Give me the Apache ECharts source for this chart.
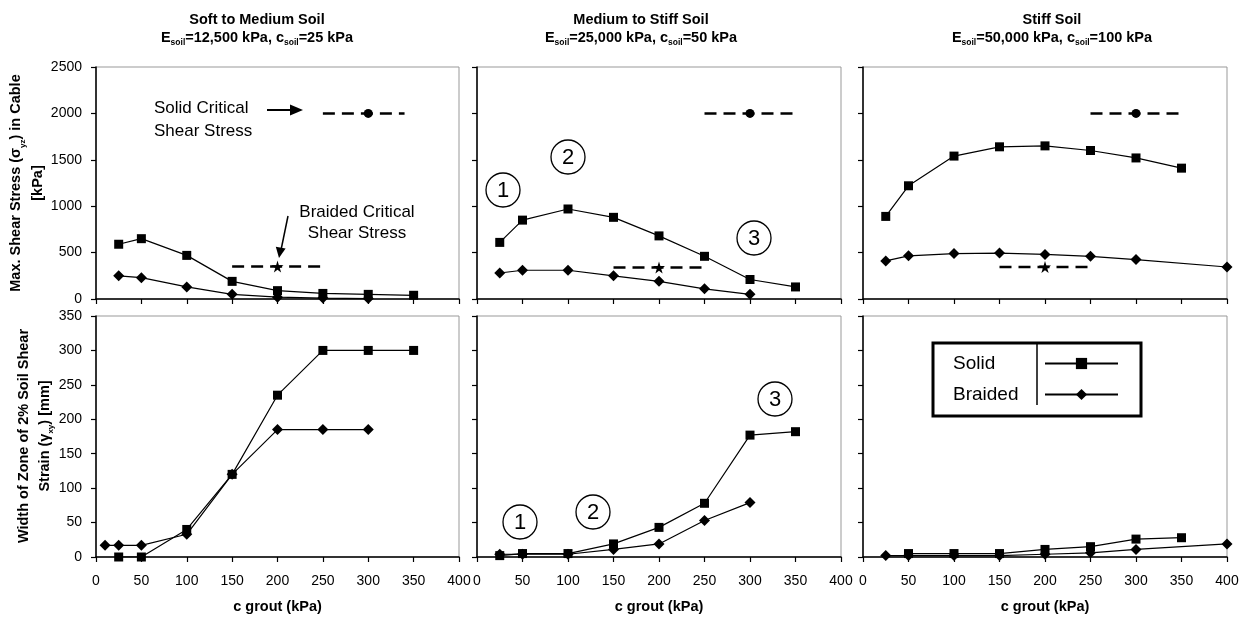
<!DOCTYPE html>
<html>
<head>
<meta charset="utf-8">
<script src="https://cdn.jsdelivr.net/npm/echarts@6/dist/echarts.min.js"></script>
<style>
  html, body { margin: 0; padding: 0; background: #fff; }
  #chart { width: 1253px; height: 617px; }
</style>
</head>
<body>
<div id="chart"></div>
<script>
// ---- c grout (kPa) sample points ----
const groutStd = [25, 50, 100, 150, 200, 250, 300, 350];
const groutTo300 = [25, 50, 100, 150, 200, 250, 300];
const groutSoftBraidedStrain = [10, 25, 50, 100, 150, 200, 250, 300];
const groutStiffBraided = [25, 50, 100, 150, 200, 250, 300, 400];
const groutStiffSolidStrain = [50, 100, 150, 200, 250, 300, 350];

// ---- Soft to Medium Soil ----
const softSolidStress = [590, 650, 470, 190, 90, 60, 50, 40];
const softBraidedStress = [250, 230, 130, 50, 20, 10, 5];
const softSolidStrain = [0, 0, 40, 120, 235, 300, 300, 300];
const softBraidedStrain = [17, 17, 17, 33, 120, 185, 185, 185];

// ---- Medium to Stiff Soil ----
const medSolidStress = [610, 850, 970, 880, 680, 460, 210, 130];
const medBraidedStress = [280, 310, 310, 250, 190, 110, 50];
const medSolidStrain = [2, 5, 5, 19, 43, 78, 177, 182];
const medBraidedStrain = [4, 4, 4, 11, 19, 53, 79];

// ---- Stiff Soil ----
const stiffSolidStress = [890, 1220, 1540, 1640, 1650, 1600, 1520, 1410];
const stiffBraidedStress = [410, 465, 490, 495, 480, 460, 425, 345];
const stiffSolidStrain = [5, 5, 5, 11, 15, 26, 28];
const stiffBraidedStrain = [2, 2, 2, 2, 4, 6, 11, 19];

// ---- critical shear stress reference lines (kPa) ----
const solidCriticalX = [250, 300, 350];
const solidCriticalLevel = [2000, 2000, 2000];
const softSolidCriticalX = [250, 300, 340];
const braidedCriticalX = [150, 200, 250];
const braidedCriticalLevel = [[350, 350, 350], [340, 340, 340], [345, 345, 345]];

// ---- axis ticks ----
const xTicks = { min: 0, max: 400, step: 50 };
const stressTicks = { min: 0, max: 2500, step: 500 };
const strainTicks = { min: 0, max: 350, step: 50 };

const FONT = '"Liberation Sans", Arial, sans-serif';
const STAR = 'path://M50,0 L61,35 L98,35 L68,57 L79,91 L50,70 L21,91 L32,57 L2,35 L39,35 Z';

const grids = [
  { left: 96,  top: 67,  width: 363, height: 232 },
  { left: 477, top: 67,  width: 364, height: 232 },
  { left: 863, top: 67,  width: 364, height: 232 },
  { left: 96,  top: 316, width: 363, height: 241 },
  { left: 477, top: 316, width: 364, height: 241 },
  { left: 863, top: 316, width: 364, height: 241 }
].map(g => Object.assign({ show: true, borderColor: '#999', borderWidth: 1, backgroundColor: '#fff' }, g));

const plain = v => String(v);

const xAxes = grids.map((g, i) => ({
  type: 'value', gridIndex: i,
  min: xTicks.min, max: xTicks.max, interval: xTicks.step,
  axisLine: { show: true, onZero: false, lineStyle: { color: '#000', width: 1.5 } },
  axisTick: { show: true, inside: false, length: 5, lineStyle: { color: '#000', width: 1.2 } },
  splitLine: { show: false },
  axisLabel: {
    show: i >= 3, margin: 17, color: '#000', fontFamily: FONT, fontSize: 14,
    showMinLabel: true, showMaxLabel: true, formatter: plain
  },
  name: i >= 3 ? 'c grout (kPa)' : '',
  nameLocation: 'middle', nameGap: 42,
  nameTextStyle: { color: '#000', fontFamily: FONT, fontSize: 14.5, fontWeight: 'bold' }
}));

const yAxes = grids.map((g, i) => {
  const t = i < 3 ? stressTicks : strainTicks;
  return {
    type: 'value', gridIndex: i,
    min: t.min, max: t.max, interval: t.step,
    axisLine: { show: true, onZero: false, lineStyle: { color: '#000', width: 1.5 } },
    axisTick: { show: true, inside: false, length: 5, lineStyle: { color: '#000', width: 1.2 } },
    splitLine: { show: false },
    axisLabel: {
      show: i === 0 || i === 3, margin: 14, color: '#000', fontFamily: FONT, fontSize: 14,
      showMinLabel: true, showMaxLabel: true, formatter: plain
    }
  };
});

function pairs(xs, ys) { return xs.map((x, k) => [x, ys[k]]); }

function dataSeries(name, xs, ys, idx, symbol, size) {
  return {
    type: 'line', name, xAxisIndex: idx, yAxisIndex: idx,
    data: pairs(xs, ys), symbol, symbolSize: size, showSymbol: true,
    lineStyle: { color: '#000', width: 1.2 },
    itemStyle: { color: '#000' },
    z: 4
  };
}

function criticalSeries(name, xs, ys, idx, symbol, size) {
  return {
    type: 'line', name, xAxisIndex: idx, yAxisIndex: idx,
    data: xs.map((x, k) => ({ value: [x, ys[k]], symbol: k === 1 ? symbol : 'none' })),
    symbolSize: size, showSymbol: true,
    lineStyle: { color: '#000', width: 2.5, type: [12, 7] },
    itemStyle: { color: '#000' },
    z: 3
  };
}

const SQ = 9, DM = [11, 11];

const series = [
  // stress panels
  dataSeries('Solid', groutStd, softSolidStress, 0, 'rect', SQ),
  dataSeries('Braided', groutTo300, softBraidedStress, 0, 'diamond', DM),
  dataSeries('Solid', groutStd, medSolidStress, 1, 'rect', SQ),
  dataSeries('Braided', groutTo300, medBraidedStress, 1, 'diamond', DM),
  dataSeries('Solid', groutStd, stiffSolidStress, 2, 'rect', SQ),
  dataSeries('Braided', groutStiffBraided, stiffBraidedStress, 2, 'diamond', DM),
  // strain panels
  dataSeries('Solid', groutStd, softSolidStrain, 3, 'rect', SQ),
  dataSeries('Braided', groutSoftBraidedStrain, softBraidedStrain, 3, 'diamond', DM),
  dataSeries('Solid', groutStd, medSolidStrain, 4, 'rect', SQ),
  dataSeries('Braided', groutTo300, medBraidedStrain, 4, 'diamond', DM),
  dataSeries('Solid', groutStiffSolidStrain, stiffSolidStrain, 5, 'rect', SQ),
  dataSeries('Braided', groutStiffBraided, stiffBraidedStrain, 5, 'diamond', DM),
  // critical shear stress lines
  criticalSeries('Solid Critical', softSolidCriticalX, solidCriticalLevel, 0, 'circle', 9),
  criticalSeries('Solid Critical', solidCriticalX, solidCriticalLevel, 1, 'circle', 9),
  criticalSeries('Solid Critical', solidCriticalX, solidCriticalLevel, 2, 'circle', 9),
  criticalSeries('Braided Critical', braidedCriticalX, braidedCriticalLevel[0], 0, STAR, 12),
  criticalSeries('Braided Critical', braidedCriticalX, braidedCriticalLevel[1], 1, STAR, 12),
  criticalSeries('Braided Critical', braidedCriticalX, braidedCriticalLevel[2], 2, STAR, 12)
];

// panel headings with subscripted soil parameters
const headRich = {
  b: { fontFamily: FONT, fontSize: 14.5, fontWeight: 'bold', color: '#000', lineHeight: 18 },
  s: { fontFamily: FONT, fontSize: 8.5, fontWeight: 'bold', color: '#000', verticalAlign: 'bottom', lineHeight: 14 }
};
function heading(cx, line1, E, c) {
  return {
    left: cx, top: 11, textAlign: 'center', padding: 0,
    text: '{b|' + line1 + '}\n{b|E}{s|soil}{b|=' + E + ' kPa, c}{s|soil}{b|=' + c + ' kPa}',
    textStyle: { rich: headRich }
  };
}

function circledNumber(cx, cy, n) {
  return {
    type: 'group', z: 20,
    children: [
      { type: 'circle', shape: { cx, cy, r: 17 }, style: { fill: null, stroke: '#000', lineWidth: 1.3 } },
      { type: 'text', x: cx, y: cy + 1, style: { text: String(n), align: 'center', verticalAlign: 'middle', font: '22px ' + FONT, fill: '#000' } }
    ]
  };
}

const axisNameRich = {
  n: { fontFamily: FONT, fontSize: 14.5, fontWeight: 'bold', fill: '#000' },
  s: { fontFamily: FONT, fontSize: 8, fontWeight: 'bold', fill: '#000', verticalAlign: 'bottom' }
};

const graphic = [
  // y-axis titles
  { type: 'text', x: 27, y: 183, rotation: Math.PI / 2, z: 20,
    style: { text: '{n|Max. Shear Stress (σ}{s|yz}{n|) in Cable}\n{n|[kPa]}', rich: axisNameRich,
      align: 'center', verticalAlign: 'middle', lineHeight: 22 } },
  { type: 'text', x: 34, y: 436, rotation: Math.PI / 2, z: 20,
    style: { text: '{n|Width of Zone of 2% Soil Shear}\n{n|Strain (γ}{s|xy}{n|) [mm]}', rich: axisNameRich,
      align: 'center', verticalAlign: 'middle', lineHeight: 21 } },
  // critical stress call-outs
  { type: 'text', x: 154, y: 108, z: 20,
    style: { text: 'Solid Critical', font: '17px ' + FONT, fill: '#000', align: 'left', verticalAlign: 'middle' } },
  { type: 'text', x: 154, y: 131, z: 20,
    style: { text: 'Shear Stress', font: '17px ' + FONT, fill: '#000', align: 'left', verticalAlign: 'middle' } },
  { type: 'line', z: 20, shape: { x1: 267, y1: 110, x2: 292, y2: 110 }, style: { stroke: '#000', lineWidth: 2 } },
  { type: 'polygon', z: 20, shape: { points: [[290, 104.5], [303, 110], [290, 115.5]] }, style: { fill: '#000' } },
  { type: 'text', x: 357, y: 212, z: 20,
    style: { text: 'Braided Critical', font: '17px ' + FONT, fill: '#000', align: 'center', verticalAlign: 'middle' } },
  { type: 'text', x: 357, y: 233, z: 20,
    style: { text: 'Shear Stress', font: '17px ' + FONT, fill: '#000', align: 'center', verticalAlign: 'middle' } },
  { type: 'line', z: 20, shape: { x1: 288, y1: 216, x2: 281, y2: 250 }, style: { stroke: '#000', lineWidth: 1.5 } },
  { type: 'polygon', z: 20, shape: { points: [[285.6, 248.6], [275.8, 246.8], [279, 258]] }, style: { fill: '#000' } },
  // circled regime numbers
  circledNumber(503, 190, 1),
  circledNumber(568, 157, 2),
  circledNumber(754, 238, 3),
  circledNumber(520, 522, 1),
  circledNumber(593, 512, 2),
  circledNumber(775, 399, 3),
  // legend column divider
  { type: 'line', z: 30, shape: { x1: 1037, y1: 344, x2: 1037, y2: 405 }, style: { stroke: '#000', lineWidth: 1.5 } }
];

const chart = echarts.init(document.getElementById('chart'), null, { renderer: 'canvas' });
chart.setOption({
  animation: false,
  backgroundColor: '#fff',
  textStyle: { fontFamily: FONT },
  title: [
    heading(257, 'Soft to Medium Soil', '12,500', '25'),
    heading(641, 'Medium to Stiff Soil', '25,000', '50'),
    heading(1052, 'Stiff Soil', '50,000', '100')
  ],
  grid: grids,
  xAxis: xAxes,
  yAxis: yAxes,
  legend: {
    data: ['Solid', 'Braided'],
    orient: 'vertical', left: 933, top: 343,
    align: 'right', selectedMode: false,
    itemWidth: 73, itemHeight: 14, itemGap: 12,
    padding: [11, 22, 12, 20],
    borderColor: '#000', borderWidth: 3, borderRadius: 0,
    backgroundColor: '#fff', z: 25,
    formatter: '{a|{name}}',
    textStyle: {
      color: '#000', fontFamily: FONT, fontSize: 19,
      rich: { a: { width: 87, align: 'left', fontSize: 19, fontFamily: FONT, color: '#000' } }
    }
  },
  graphic,
  series
});
</script>
</body>
</html>
